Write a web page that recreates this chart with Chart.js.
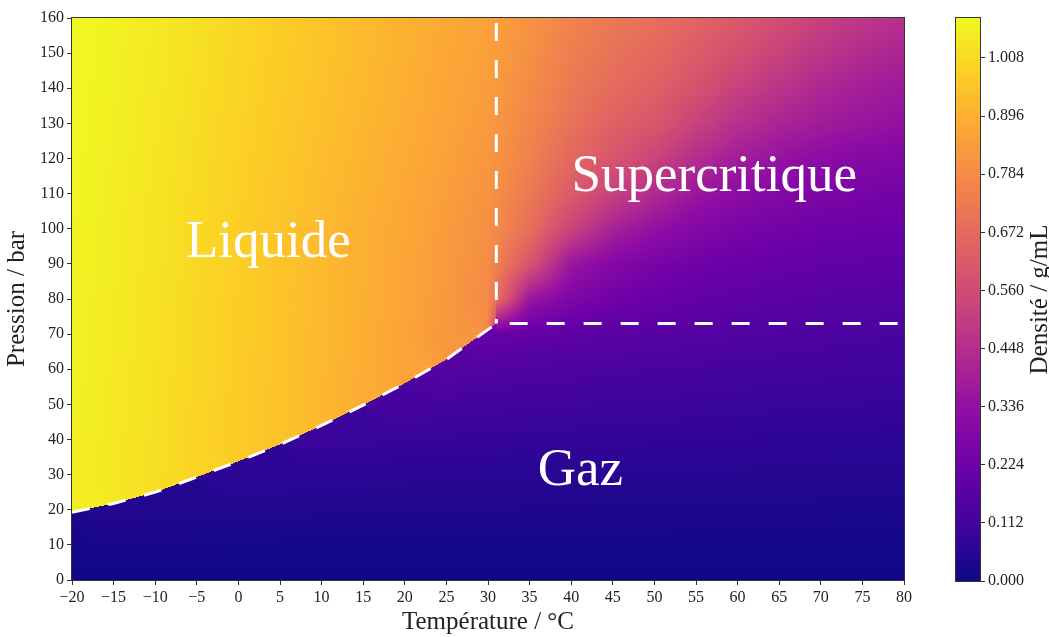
<!DOCTYPE html>
<html>
<head>
<meta charset="utf-8">
<script src="https://cdn.jsdelivr.net/npm/chart.js@4.4.1/dist/chart.umd.min.js"></script>
<style>
  html, body { margin: 0; padding: 0; background: #fff; }
  .wrap { position: relative; width: 1049px; height: 637px; }
  .wrap canvas { position: absolute; left: 0; top: 0; }
</style>
</head>
<body>
<div class="wrap">
  <canvas id="phase" width="1049" height="637"></canvas>
  <canvas id="cbar" width="1049" height="637"></canvas>
</div>
<script>
// grid of the map : temperatures (°C) in columns, pressures (bar) in rows
const temps = [-20, -15, -10, -5, 0, 5, 10, 15, 20, 25, 30, 35, 40, 45, 50, 55, 60, 65, 70, 75, 80]
const pressures = [0, 10, 20, 30, 40, 50, 60, 70, 80, 90, 100, 110, 120, 130, 140, 150, 160]

// density in g/mL, one row per pressure
const density = [
  [0, 0, 0, 0, 0, 0, 0, 0, 0, 0, 0, 0, 0, 0, 0, 0, 0, 0, 0, 0, 0],
  [0.022, 0.022, 0.021, 0.021, 0.020, 0.020, 0.019, 0.019, 0.018, 0.018, 0.018, 0.017, 0.017, 0.017, 0.017, 0.016, 0.016, 0.016, 0.015, 0.015, 0.015],
  [1.058, 0.048, 0.045, 0.044, 0.043, 0.042, 0.041, 0.040, 0.039, 0.038, 0.037, 0.036, 0.036, 0.035, 0.035, 0.034, 0.034, 0.033, 0.032, 0.032, 0.031],
  [1.060, 1.039, 1.018, 0.991, 0.072, 0.068, 0.065, 0.062, 0.061, 0.059, 0.058, 0.057, 0.056, 0.055, 0.054, 0.053, 0.052, 0.051, 0.050, 0.049, 0.048],
  [1.062, 1.042, 1.020, 0.993, 0.968, 0.940, 0.098, 0.093, 0.088, 0.085, 0.083, 0.081, 0.079, 0.077, 0.076, 0.074, 0.072, 0.070, 0.069, 0.068, 0.066],
  [1.064, 1.044, 1.022, 0.995, 0.970, 0.942, 0.915, 0.884, 0.125, 0.118, 0.113, 0.109, 0.106, 0.103, 0.100, 0.097, 0.094, 0.091, 0.089, 0.087, 0.085],
  [1.067, 1.046, 1.024, 0.997, 0.972, 0.944, 0.917, 0.888, 0.857, 0.165, 0.152, 0.145, 0.139, 0.134, 0.129, 0.124, 0.121, 0.117, 0.113, 0.110, 0.107],
  [1.069, 1.048, 1.026, 0.999, 0.974, 0.946, 0.919, 0.891, 0.860, 0.819, 0.210, 0.195, 0.183, 0.173, 0.165, 0.158, 0.151, 0.145, 0.139, 0.134, 0.130],
  [1.070, 1.049, 1.027, 1.000, 0.975, 0.947, 0.920, 0.892, 0.864, 0.827, 0.776, 0.360, 0.271, 0.233, 0.212, 0.195, 0.184, 0.174, 0.168, 0.163, 0.157],
  [1.072, 1.051, 1.030, 1.003, 0.977, 0.948, 0.921, 0.894, 0.866, 0.831, 0.787, 0.600, 0.358, 0.293, 0.255, 0.233, 0.217, 0.206, 0.195, 0.190, 0.184],
  [1.074, 1.052, 1.031, 1.004, 0.977, 0.949, 0.922, 0.895, 0.868, 0.835, 0.797, 0.690, 0.532, 0.401, 0.336, 0.288, 0.260, 0.244, 0.228, 0.222, 0.217],
  [1.076, 1.055, 1.033, 1.007, 0.981, 0.954, 0.927, 0.901, 0.875, 0.843, 0.808, 0.722, 0.618, 0.521, 0.434, 0.358, 0.315, 0.288, 0.271, 0.255, 0.244],
  [1.078, 1.058, 1.036, 1.010, 0.985, 0.958, 0.932, 0.906, 0.881, 0.851, 0.819, 0.749, 0.662, 0.597, 0.532, 0.445, 0.385, 0.347, 0.315, 0.293, 0.282],
  [1.080, 1.060, 1.039, 1.013, 0.988, 0.962, 0.937, 0.911, 0.888, 0.858, 0.830, 0.765, 0.700, 0.640, 0.602, 0.526, 0.456, 0.412, 0.380, 0.358, 0.336],
  [1.082, 1.062, 1.042, 1.017, 0.992, 0.967, 0.942, 0.917, 0.893, 0.865, 0.839, 0.781, 0.722, 0.673, 0.640, 0.586, 0.521, 0.472, 0.423, 0.391, 0.369],
  [1.084, 1.064, 1.045, 1.020, 0.995, 0.970, 0.946, 0.921, 0.897, 0.870, 0.847, 0.797, 0.738, 0.700, 0.667, 0.624, 0.575, 0.526, 0.477, 0.439, 0.412],
  [1.085, 1.067, 1.047, 1.023, 0.998, 0.973, 0.949, 0.924, 0.901, 0.875, 0.854, 0.808, 0.754, 0.716, 0.689, 0.651, 0.613, 0.570, 0.521, 0.483, 0.456]
]

// liquid / gas boundary (dashed line), then the critical pressure line
const satT = [-20, -15, -10, -5, 0, 5, 10, 15, 20, 25, 31, 80]
const satP = [19.3, 21.8, 25, 29.3, 33.8, 38.6, 44, 49.8, 56, 62.8, 73, 73]
const critT = [31, 31]
const critP = [160, 73]
const Tc = 31

// colour bar
const cbTicks = [0, 0.112, 0.224, 0.336, 0.448, 0.560, 0.672, 0.784, 0.896, 1.008]
const vmax = 1.085

const regionLabels = [
  { text: 'Liquide', t: 3.6, p: 92 },
  { text: 'Supercritique', t: 57.2, p: 110.8 },
  { text: 'Gaz', t: 41.1, p: 27 }
]

// plasma colormap
const plasmaStops = [[13,8,135],[65,4,157],[106,0,168],[143,13,164],[177,42,144],[204,71,120],[225,100,98],[242,132,75],[252,166,54],[252,206,37],[240,249,33]]
function plasma(f) {
  f = Math.max(0, Math.min(1, f))
  let s = f * 10
  let i = Math.min(Math.floor(s), 9)
  let t = s - i
  let a = plasmaStops[i], b = plasmaStops[i + 1]
  return [a[0] + (b[0] - a[0]) * t, a[1] + (b[1] - a[1]) * t, a[2] + (b[2] - a[2]) * t]
}

function psat(T) {
  if (T <= satT[0]) return satP[0]
  for (let k = 1; k < satT.length; k++) {
    if (T <= satT[k]) {
      let u = (T - satT[k - 1]) / (satT[k] - satT[k - 1])
      return satP[k - 1] + u * (satP[k] - satP[k - 1])
    }
  }
  return satP[satP.length - 1]
}
// 1 = liquid side, -1 = gas side, 0 = above critical temperature
function side(T, P) {
  if (T >= Tc) return 0
  return P >= psat(T) ? 1 : -1
}

function densityAt(T, P) {
  let dt = temps[1] - temps[0], dp = pressures[1] - pressures[0]
  let fi = (T - temps[0]) / dt, fj = (P - pressures[0]) / dp
  let i0 = Math.min(Math.max(Math.floor(fi), 0), temps.length - 2)
  let j0 = Math.min(Math.max(Math.floor(fj), 0), pressures.length - 2)
  let u = Math.max(0, Math.min(1, fi - i0)), v = Math.max(0, Math.min(1, fj - j0))
  let s = side(T, P)
  let corners = [[0, 0, (1 - u) * (1 - v)], [1, 0, u * (1 - v)], [0, 1, (1 - u) * v], [1, 1, u * v]]
  let sum = 0, wsum = 0, all = 0
  corners.forEach(([di, dj, w]) => {
    let val = density[j0 + dj][i0 + di]
    all += w * val
    if (s !== 0 && side(temps[i0 + di], pressures[j0 + dj]) === -s) return
    sum += w * val
    wsum += w
  })
  return wsum > 1e-9 ? sum / wsum : all
}

const heatmap = {
  id: 'heatmap',
  beforeDatasetsDraw(chart) {
    const { ctx, chartArea: a, scales: { x, y } } = chart
    let w = Math.round(a.right - a.left), h = Math.round(a.bottom - a.top)
    let off = document.createElement('canvas')
    off.width = w; off.height = h
    let octx = off.getContext('2d')
    let img = octx.createImageData(w, h)
    for (let j = 0; j < h; j++) {
      let P = y.getValueForPixel(a.top + j + 0.5)
      for (let i = 0; i < w; i++) {
        let T = x.getValueForPixel(a.left + i + 0.5)
        let c = plasma(densityAt(T, P) / vmax)
        let k = (j * w + i) * 4
        img.data[k] = c[0]; img.data[k + 1] = c[1]; img.data[k + 2] = c[2]; img.data[k + 3] = 255
      }
    }
    octx.putImageData(img, 0, 0)
    ctx.drawImage(off, a.left, a.top)
  },
  afterDatasetsDraw(chart) {
    const { ctx, chartArea: a, scales: { x, y } } = chart
    ctx.save()
    ctx.fillStyle = '#fff'
    ctx.font = '53px "Liberation Serif"'
    ctx.textAlign = 'center'
    ctx.textBaseline = 'alphabetic'
    regionLabels.forEach(l => ctx.fillText(l.text, x.getPixelForValue(l.t), y.getPixelForValue(l.p)))
    ctx.strokeStyle = '#333'
    ctx.lineWidth = 1
    ctx.strokeRect(a.left - 0.5, a.top - 0.5, a.right - a.left + 1, a.bottom - a.top + 1)
    ctx.restore()
  }
}

Chart.defaults.font.family = '"Liberation Serif"'
Chart.defaults.color = '#222'

const minus = v => (v < 0 ? '\u2212' + Math.abs(v) : '' + v)
const tickFont = { size: 16 }
const titleFont = { size: 25 }

new Chart(document.getElementById('phase'), {
  type: 'scatter',
  data: {
    datasets: [
      {
        data: satT.map((t, i) => ({ x: t, y: satP[i] })),
        showLine: true, borderColor: '#fff', borderWidth: 3, borderDash: [18, 19],
        pointRadius: 0, tension: 0, fill: false
      },
      {
        data: critT.map((t, i) => ({ x: t, y: critP[i] })),
        showLine: true, borderColor: '#fff', borderWidth: 3, borderDash: [18, 19], borderDashOffset: -5,
        pointRadius: 0, tension: 0, fill: false
      }
    ]
  },
  options: {
    responsive: false,
    animation: false,
    layout: { padding: { left: 0, right: 145, top: 18, bottom: 0 } },
    plugins: { legend: { display: false }, tooltip: { enabled: false } },
    scales: {
      x: {
        type: 'linear', min: -20, max: 80,
        ticks: { stepSize: 5, autoSkip: false, maxRotation: 0, font: tickFont, padding: 3, callback: minus },
        grid: { drawOnChartArea: false, drawTicks: true, tickLength: 5, color: '#333' },
        border: { display: false },
        title: { display: true, text: 'Température / °C', font: titleFont, color: '#222', padding: { top: 4, bottom: 0 } },
        afterFit: s => { s.height = 57 }
      },
      y: {
        type: 'linear', min: 0, max: 160,
        ticks: { stepSize: 10, autoSkip: false, font: tickFont, padding: 3 },
        grid: { drawOnChartArea: false, drawTicks: true, tickLength: 5, color: '#333' },
        border: { display: false },
        title: { display: true, text: 'Pression / bar', font: titleFont, color: '#222', padding: { top: 2, bottom: 0 } },
        afterFit: s => { s.width = 72 }
      }
    }
  },
  plugins: [heatmap]
})

const colorbar = {
  id: 'colorbar',
  beforeDatasetsDraw(chart) {
    const { ctx, chartArea: a } = chart
    let g = ctx.createLinearGradient(0, a.bottom, 0, a.top)
    plasmaStops.forEach((c, i) => g.addColorStop(i / 10, 'rgb(' + c.join(',') + ')'))
    ctx.save()
    ctx.fillStyle = g
    ctx.fillRect(a.left, a.top, a.right - a.left, a.bottom - a.top)
    ctx.strokeStyle = '#333'
    ctx.lineWidth = 1
    ctx.strokeRect(a.left - 0.5, a.top - 0.5, a.right - a.left + 1, a.bottom - a.top + 1)
    // label reads bottom to top
    ctx.translate(1040, (a.top + a.bottom) / 2)
    ctx.rotate(-Math.PI / 2)
    ctx.fillStyle = '#222'
    ctx.font = '25px "Liberation Serif"'
    ctx.textAlign = 'center'
    ctx.textBaseline = 'middle'
    ctx.fillText('Densité / g/mL', 0, 0)
    ctx.restore()
  }
}

new Chart(document.getElementById('cbar'), {
  type: 'scatter',
  data: { datasets: [] },
  options: {
    responsive: false,
    animation: false,
    layout: { padding: { left: 956, right: 0, top: 18, bottom: 56 } },
    plugins: { legend: { display: false }, tooltip: { enabled: false } },
    scales: {
      x: { display: false, min: 0, max: 1 },
      y: {
        position: 'right', min: 0, max: vmax,
        afterBuildTicks: s => { s.ticks = cbTicks.map(v => ({ value: v })) },
        ticks: { font: tickFont, padding: 3, callback: v => v.toFixed(3) },
        grid: { drawOnChartArea: false, drawTicks: true, tickLength: 5, color: '#333' },
        border: { display: false },
        afterFit: s => { s.width = 69 }
      }
    }
  },
  plugins: [colorbar]
})
</script>
</body>
</html>
